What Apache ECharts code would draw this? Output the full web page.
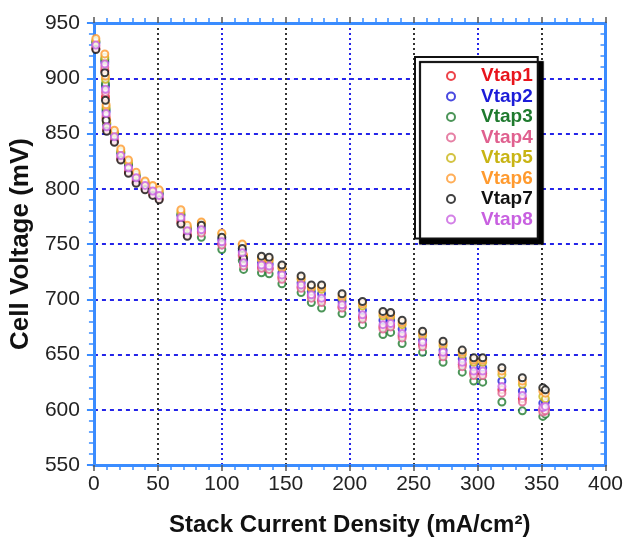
<!DOCTYPE html>
<html>
<head>
<meta charset="utf-8">
<script src="https://cdn.jsdelivr.net/npm/echarts@6/dist/echarts.min.js"></script>
<style>
html,body{margin:0;padding:0;background:#fff;}
#c{width:626px;height:542px;}
</style>
</head>
<body>
<div id="c"></div>
<script>
// Stack current density (mA/cm2)
const currentDensity = [1.5, 8.5, 9, 9.5, 10, 16, 21, 27, 33, 40, 46, 51, 68, 73, 84, 100, 116, 117, 131, 137, 147, 162, 170, 178, 194, 210, 226, 232, 241, 257, 273, 288, 297, 304, 319, 335, 351, 353];
// Cell voltages (mV) per tap
const vtap1 = [927, 907, 883, 864, 853, 843, 827, 815, 806, 800, 795, 791, 770, 758, 761, 750, 740, 732, 729, 728, 720, 711, 703, 699, 693, 684, 675, 676, 667, 659, 650, 641, 633, 633, 618, 610, 600, 601];
const vtap2 = [932, 915, 893, 870, 858, 849, 832, 821, 811, 804, 799, 795, 776, 763, 764, 754, 744, 735, 733, 732, 724, 715, 707, 705, 698, 690, 681, 681, 673, 663, 654, 646, 639, 638, 626, 617, 606, 607];
const vtap3 = [933, 917, 895, 872, 859, 850, 833, 822, 812, 805, 800, 796, 777, 764, 756, 745, 735, 727, 724, 723, 714, 706, 697, 692, 687, 677, 668, 670, 660, 652, 643, 634, 626, 625, 607, 599, 594, 596];
const vtap4 = [929, 910, 887, 866, 855, 845, 829, 818, 808, 801, 797, 793, 772, 760, 760, 749, 739, 730, 728, 727, 718, 710, 701, 697, 692, 682, 673, 675, 665, 657, 648, 639, 631, 631, 615, 607, 598, 599];
const vtap5 = [934, 919, 899, 874, 860, 851, 834, 824, 813, 806, 802, 798, 779, 765, 769, 759, 749, 739, 736, 735, 728, 718, 710, 709, 701, 694, 685, 684, 677, 667, 658, 650, 643, 643, 632, 623, 612, 610];
const vtap6 = [936, 922, 902, 876, 862, 853, 836, 826, 815, 807, 803, 799, 781, 767, 770, 760, 750, 740, 737, 736, 729, 719, 711, 711, 703, 696, 687, 686, 679, 669, 660, 652, 645, 645, 635, 626, 617, 615];
const vtap7 = [926, 905, 880, 862, 852, 842, 826, 814, 805, 799, 794, 790, 768, 757, 767, 756, 746, 737, 739, 738, 731, 721, 713, 713, 705, 698, 689, 688, 681, 671, 662, 654, 647, 647, 638, 629, 620, 618];
const vtap8 = [930, 913, 890, 868, 856, 847, 830, 819, 810, 803, 798, 794, 774, 762, 763, 752, 742, 733, 731, 730, 722, 713, 704, 701, 695, 686, 677, 678, 669, 661, 652, 643, 635, 635, 621, 613, 602, 603];

const seriesNames = ['Vtap1', 'Vtap2', 'Vtap3', 'Vtap4', 'Vtap5', 'Vtap6', 'Vtap7', 'Vtap8'];
const seriesValues = [vtap1, vtap2, vtap3, vtap4, vtap5, vtap6, vtap7, vtap8];
const seriesColors = ['#e8141c', '#1c1cd8', '#1f7a2e', '#e0608f', '#c8b414', '#ff9a2e', '#111111', '#c860e0'];

const xTitle = 'Stack Current Density (mA/cm²)';
const yTitle = 'Cell Voltage (mV)';

const FONT = '"Liberation Sans", Arial, sans-serif';
const AXIS_BLUE = '#3a8cff';
const GRID_BLUE = '#2424e8';

const chart = echarts.init(document.getElementById('c'), null, {renderer: 'canvas'});

const series = seriesNames.map((name, i) => ({
  name: name,
  type: 'scatter',
  symbol: 'emptyCircle',
  symbolSize: 7,
  itemStyle: {color: seriesColors[i], borderWidth: 1.6},
  data: currentDensity.map((x, j) => [x, seriesValues[i][j]]),
  z: 3
}));

const baseMinorTick = {show: true, splitNumber: 5, length: 5, lineStyle: {color: AXIS_BLUE, width: 1.5}};

chart.setOption({
  animation: false,
  backgroundColor: '#fff',
  grid: {left: 90, right: 12, top: 23, bottom: 74, containLabel: false},
  legend: {
    orient: 'vertical',
    left: 415,
    top: 57,
    backgroundColor: '#fff',
    borderColor: '#111',
    borderWidth: 2,
    borderRadius: 0,
    shadowColor: '#000',
    shadowBlur: 1,
    shadowOffsetX: 5,
    shadowOffsetY: 5,
    padding: [9, 5, 9, 31],
    itemWidth: 8,
    itemHeight: 8,
    itemGap: 0.5,
    selectedMode: false,
    textStyle: {fontFamily: FONT, fontWeight: 'bold', fontSize: 19, lineHeight: 20, padding: [0, 0, 0, 21]},
    data: seriesNames.map((n, i) => ({name: n, textStyle: {color: seriesColors[i]}}))
  },
  xAxis: [{
    type: 'value', min: 0, max: 400, interval: 50, position: 'bottom',
    name: xTitle, nameLocation: 'middle', nameGap: 48,
    nameTextStyle: {fontFamily: FONT, fontWeight: 'bold', fontSize: 24, color: '#111'},
    axisLine: {show: true, onZero: false, lineStyle: {color: AXIS_BLUE, width: 3}},
    axisTick: {show: true, inside: false, length: 6, lineStyle: {color: '#555', width: 1.5}},
    minorTick: baseMinorTick,
    axisLabel: {fontFamily: FONT, fontSize: 21, color: '#222', margin: 9},
    splitLine: {show: true, showMinLine: true, showMaxLine: true, lineStyle: {color: [GRID_BLUE, '#333'], type: [2, 3], width: 2}}
  }, {
    type: 'value', min: 0, max: 400, interval: 50, position: 'top',
    axisLine: {show: true, onZero: false, lineStyle: {color: AXIS_BLUE, width: 3}},
    axisTick: {show: true, inside: false, length: 6, lineStyle: {color: '#555', width: 1.5}},
    minorTick: baseMinorTick,
    axisLabel: {show: false},
    splitLine: {show: false}
  }],
  yAxis: [{
    type: 'value', min: 550, max: 950, interval: 50, position: 'left',
    name: yTitle, nameLocation: 'middle', nameGap: 52,
    nameTextStyle: {fontFamily: FONT, fontWeight: 'bold', fontSize: 26, color: '#111'},
    axisLine: {show: true, onZero: false, lineStyle: {color: AXIS_BLUE, width: 3}},
    axisTick: {show: true, inside: false, length: 7, lineStyle: {color: AXIS_BLUE, width: 2}},
    minorTick: baseMinorTick,
    axisLabel: {fontFamily: FONT, fontSize: 21, color: '#222', margin: 14},
    splitLine: {show: true, lineStyle: {color: GRID_BLUE, type: [4, 4], width: 2}}
  }, {
    type: 'value', min: 550, max: 950, interval: 50, position: 'right',
    axisLine: {show: true, onZero: false, lineStyle: {color: AXIS_BLUE, width: 3}},
    axisTick: {show: false},
    minorTick: {show: true, splitNumber: 5, length: -5, lineStyle: {color: AXIS_BLUE, width: 1.5}},
    axisLabel: {show: false},
    splitLine: {show: false}
  }],
  series: series
});
</script>
</body>
</html>
